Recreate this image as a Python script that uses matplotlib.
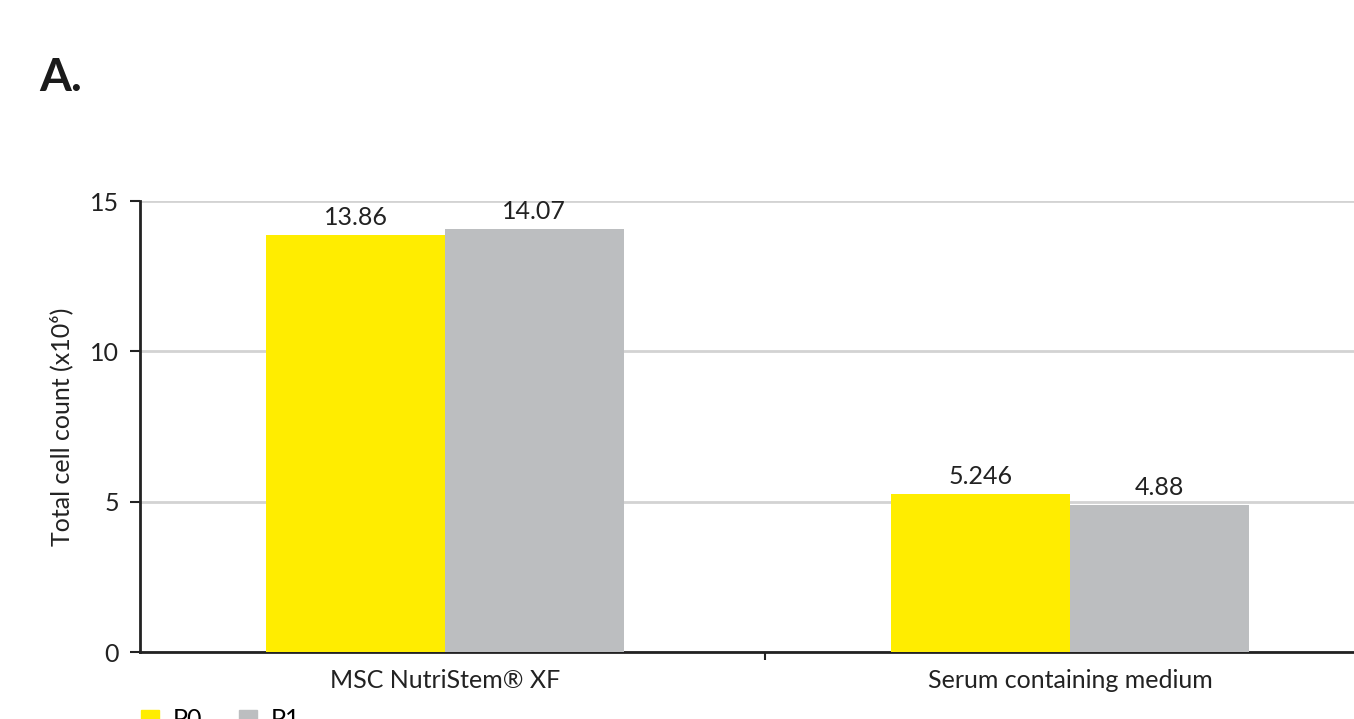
import numpy as np
import matplotlib
matplotlib.use("Agg")
from matplotlib import pyplot as plt
from matplotlib.patches import Patch

categories = ['MSC NutriStem® XF', 'Serum containing medium']
p0_values = [13.86, 5.246]
p1_values = [14.07, 4.88]
p0_labels = ['13.86', '5.246']
p1_labels = ['14.07', '4.88']
y_ticks = [0, 5, 10, 15]

color_P0 = '#FFED00'
color_P1 = '#BCBEC0'
text_col = '#222222'

plt.rcParams['font.family'] = ['Lato', 'DejaVu Sans']

fig = plt.figure(figsize=(13.54, 7.19), dpi=100)
ax = fig.add_axes([140 / 1354, 67 / 719, 1250 / 1354, 451 / 719])

x = np.arange(len(categories))
w = 0.286
bars0 = ax.bar(x - w / 2, p0_values, w, color=color_P0, label='P0', zorder=3)
bars1 = ax.bar(x + w / 2, p1_values, w, color=color_P1, label='P1', zorder=3)

for b, t in zip(bars0, p0_labels):
    ax.text(b.get_x() + b.get_width() / 2, b.get_height() + 0.2, t,
            ha='center', va='bottom', fontsize=18, color=text_col)
for b, t in zip(bars1, p1_labels):
    ax.text(b.get_x() + b.get_width() / 2, b.get_height() + 0.2, t,
            ha='center', va='bottom', fontsize=18, color=text_col)

ax.set_xlim(-0.488, 1.512)
ax.set_ylim(0, 15)
ax.set_yticks(y_ticks)
ax.set_yticklabels([str(v) for v in y_ticks], fontsize=18, color=text_col)
ax.set_xticks(x)
ax.set_xticklabels(categories, fontsize=18, color=text_col)
ax.tick_params(axis='x', length=0, pad=12)
ax.set_xticks([0.512], minor=True)
ax.tick_params(axis='x', which='minor', length=6, width=1.5, color=text_col)
ax.tick_params(axis='y', length=7, width=1.5, color=text_col, pad=8)

ax.yaxis.grid(True, color='#D3D3D3', linewidth=2, zorder=0)
ax.set_axisbelow(True)
for s in ['top', 'right']:
    ax.spines[s].set_visible(False)
for s in ['left', 'bottom']:
    ax.spines[s].set_linewidth(2)
    ax.spines[s].set_color(text_col)

ax.set_ylabel('Total cell count (x10⁶)', fontsize=18, color=text_col, labelpad=12)

fig.text(39 / 1354, 1 - 91 / 719, 'A.', fontsize=33, fontweight='bold', color='#1a1a1a')

# legend sits at the bottom edge, partly cut off like in the source figure
handles = [Patch(color=color_P0, label='P0'), Patch(color=color_P1, label='P1')]
fig.legend(handles=handles, loc='upper left', bbox_to_anchor=(141 / 1354, 1 - 708 / 719),
           ncol=2, frameon=False, fontsize=18, handlelength=0.72, handleheight=0.6,
           columnspacing=1.45, handletextpad=0.56, borderpad=0, borderaxespad=0)

fig.savefig('out.png', dpi=100)
